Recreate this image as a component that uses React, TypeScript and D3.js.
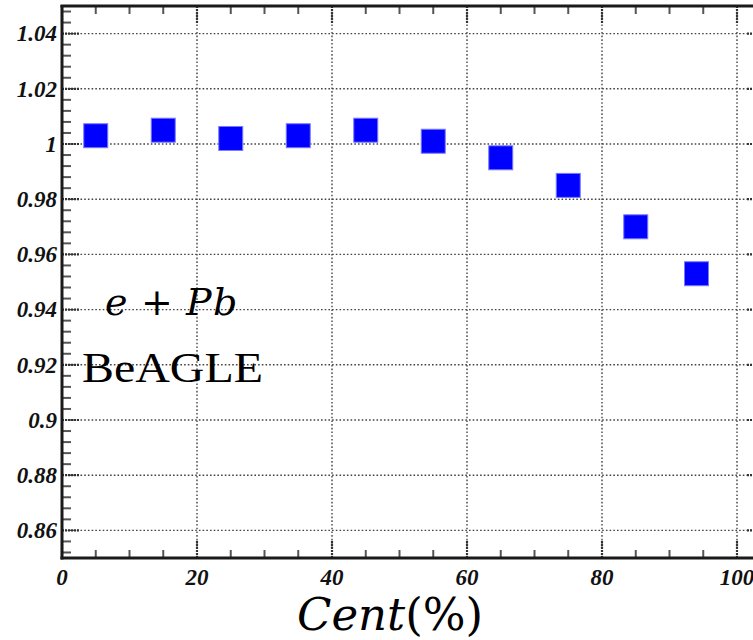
import React from "react";
import * as d3 from "d3";

const centrality = [5, 15, 25, 35, 45, 55, 65, 75, 85, 94];
const ratio = [1.003, 1.005, 1.002, 1.003, 1.005, 1.001, 0.995, 0.985, 0.97, 0.953];
const yTickValues = [0.86, 0.88, 0.9, 0.92, 0.94, 0.96, 0.98, 1.0, 1.02, 1.04];
const yTickLabels = ["0.86", "0.88", "0.9", "0.92", "0.94", "0.96", "0.98", "1", "1.02", "1.04"];
const xTickValues = [0, 20, 40, 60, 80, 100];
const xTickLabels = ["0", "20", "40", "60", "80", "100"];

const W = 753;
const H = 640;
const left = 62;
const top = 6;
const bottom = 558;
const SERIF = "Liberation Serif";

export default function App() {
  const x = d3.scaleLinear().domain([0, 104]).range([left, left + 104 * 6.75]);
  const y = d3.scaleLinear().domain([0.85, 1.05]).range([bottom, top]);
  const right = x(104);
  const yMinor = d3.range(0.852, 1.05, 0.004).filter(
    (v) => !yTickValues.some((t) => Math.abs(t - v) < 1e-6)
  );
  const xMinor = d3.range(5, 104, 5).filter((v) => v % 20 !== 0);
  const gridColor = "#444";
  const tickColor = "#555";
  const sq = 24;

  return (
    <svg
      width={W}
      height={H}
      viewBox={`0 0 ${W} ${H}`}
      style={{ position: "absolute", left: 0, top: 0, background: "#fff", overflow: "hidden" }}
    >
      <rect x={0} y={0} width={W} height={H} fill="#fff" />
      {/* grid */}
      {yTickValues.map((v) => (
        <line
          key={"gy" + v}
          x1={left}
          x2={right}
          y1={y(v)}
          y2={y(v)}
          stroke={gridColor}
          strokeWidth={1.4}
          strokeDasharray="1.6 2.1"
        />
      ))}
      {xTickValues.slice(1).map((v) => (
        <line
          key={"gx" + v}
          x1={x(v)}
          x2={x(v)}
          y1={top}
          y2={bottom}
          stroke={gridColor}
          strokeWidth={1.4}
          strokeDasharray="1.6 2.1"
        />
      ))}
      {/* minor ticks y (left and right) */}
      {yMinor.map((v) => (
        <g key={"ym" + v}>
          <line x1={left} x2={left + 9} y1={y(v)} y2={y(v)} stroke={tickColor} strokeWidth={2} />
          <line x1={right} x2={right - 9} y1={y(v)} y2={y(v)} stroke={tickColor} strokeWidth={2} />
        </g>
      ))}
      {yTickValues.map((v) => (
        <g key={"yM" + v}>
          <line x1={left} x2={left + 18} y1={y(v)} y2={y(v)} stroke="#333" strokeWidth={2.2} strokeDasharray="2 1" />
          <line x1={right} x2={right - 18} y1={y(v)} y2={y(v)} stroke="#333" strokeWidth={2.2} strokeDasharray="2 1" />
        </g>
      ))}
      {/* minor ticks x (bottom and top) */}
      {xMinor.map((v) => (
        <g key={"xm" + v}>
          <line x1={x(v)} x2={x(v)} y1={bottom} y2={bottom - 8} stroke={tickColor} strokeWidth={2} />
          <line x1={x(v)} x2={x(v)} y1={top} y2={top + 8} stroke={tickColor} strokeWidth={2} />
        </g>
      ))}
      {xTickValues.map((v) => (
        <g key={"xM" + v}>
          <line x1={x(v)} x2={x(v)} y1={bottom} y2={bottom - 17} stroke="#333" strokeWidth={2.2} strokeDasharray="2 1" />
          <line x1={x(v)} x2={x(v)} y1={top} y2={top + 17} stroke="#333" strokeWidth={2.2} strokeDasharray="2 1" />
        </g>
      ))}
      {/* frame */}
      <line x1={left} x2={left} y1={top - 1} y2={bottom + 1.5} stroke="#1a1a1a" strokeWidth={3} />
      <line x1={left - 1.5} x2={right} y1={bottom} y2={bottom} stroke="#1a1a1a" strokeWidth={3} />
      <line x1={left - 1.5} x2={right} y1={top} y2={top} stroke="#1a1a1a" strokeWidth={3} />
      <line x1={right} x2={right} y1={top} y2={bottom} stroke="#1a1a1a" strokeWidth={3} />
      {/* y labels */}
      {yTickValues.map((v, i) => (
        <text
          key={"yl" + v}
          x={57}
          y={y(v)}
          dy="0.34em"
          textAnchor="end"
          fill="#111"
          fontFamily={SERIF}
          fontWeight="bold"
          fontStyle="italic"
          fontSize={23}
        >
          {yTickLabels[i]}
        </text>
      ))}
      {/* x labels */}
      {xTickValues.map((v, i) => (
        <text
          key={"xl" + v}
          x={x(v)}
          y={585}
          textAnchor="middle"
          fill="#111"
          fontFamily={SERIF}
          fontWeight="bold"
          fontStyle="italic"
          fontSize={23}
        >
          {xTickLabels[i]}
        </text>
      ))}
      {/* data */}
      {centrality.map((c, i) => (
        <rect
          key={"p" + i}
          x={x(c) - sq / 2}
          y={y(ratio[i]) - sq / 2}
          width={sq}
          height={sq}
          fill="#0000ff"
          stroke="#7a7aff"
          strokeWidth={1}
        />
      ))}
      {/* annotations */}
      <text y={315} fill="#000" fontFamily="DejaVu Serif" fontSize={38}>
        <tspan x={105} fontStyle="italic">e</tspan>
        <tspan x={141}>+</tspan>
        <tspan x={186} fontStyle="italic">P</tspan>
        <tspan x={213} fontStyle="italic">b</tspan>
      </text>
      <text
        x={82}
        y={382}
        fill="#000"
        textLength={181}
        lengthAdjust="spacingAndGlyphs"
        fontFamily={SERIF}
        fontSize={43}
      >
        BeAGLE
      </text>
      <text x={390} y={630} textAnchor="middle" fill="#000" fontFamily="DejaVu Serif" fontSize={45}>
        <tspan fontStyle="italic">Cent</tspan>
        <tspan>(%)</tspan>
      </text>
    </svg>
  );
}
